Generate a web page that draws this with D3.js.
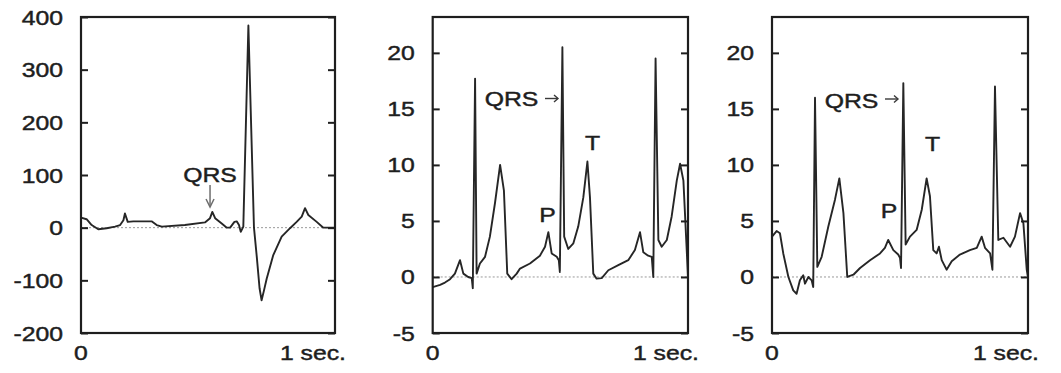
<!DOCTYPE html>
<html>
<head>
<meta charset="utf-8">
<script src="https://cdn.jsdelivr.net/npm/d3@7/dist/d3.min.js"></script>
<style>
  html, body { margin: 0; padding: 0; background: #fff; }
  svg { display: block; }
  text { font-family: "Liberation Sans", Arial, Helvetica, sans-serif; fill: #1e1e1e; stroke: #1e1e1e; stroke-width: 0.45px; }
</style>
</head>
<body>
<svg id="chart" width="1061" height="373"></svg>
<script>
// ---- data (time in seconds, 0..1) ----
const panel1Time = [0.000,0.022,0.042,0.068,0.101,0.134,0.154,0.167,0.173,0.184,0.206,0.278,0.298,0.318,0.409,0.488,0.508,0.517,0.528,0.554,0.574,0.587,0.604,0.613,0.622,0.629,0.639,0.659,0.681,0.692,0.703,0.711,0.720,0.731,0.757,0.790,0.823,0.849,0.869,0.882,0.895,0.928,0.954,1.000];
const panel1Value = [19,16,5,-3,-1,2,5,14,27,11,12,12,5,2,5,10,18,30,18,8,0,0,11,12,5,-8,2,384,0,-55,-115,-138,-120,-97,-52,-17,-1,11,21,37,24,11,0,0];

const panel2Time = [0.000,0.029,0.048,0.068,0.087,0.107,0.120,0.139,0.153,0.157,0.166,0.172,0.185,0.205,0.224,0.244,0.264,0.279,0.292,0.309,0.329,0.342,0.381,0.420,0.440,0.453,0.466,0.486,0.494,0.498,0.508,0.515,0.531,0.551,0.570,0.590,0.606,0.616,0.629,0.642,0.662,0.688,0.727,0.766,0.792,0.812,0.825,0.844,0.858,0.864,0.873,0.884,0.897,0.917,0.936,0.956,0.969,0.982,1.000];
const panel2Value = [-0.9,-0.7,-0.5,-0.2,0.3,1.5,0.3,0.0,-0.1,-1.0,17.7,0.3,1.2,1.8,3.6,6.6,10.0,7.7,0.3,-0.2,0.3,0.75,1.2,1.9,2.7,4.0,2.1,1.8,1.5,0.45,20.5,3.6,2.5,3.0,4.5,7.1,10.3,7.1,0.3,-0.15,-0.1,0.6,1.05,1.5,2.4,4.0,2.2,1.9,1.8,0.0,19.5,3.3,2.7,3.3,5.4,8.6,10.1,8.6,0.0];

const panel3Time = [0.000,0.018,0.031,0.044,0.064,0.083,0.096,0.109,0.122,0.129,0.142,0.155,0.161,0.168,0.177,0.194,0.220,0.246,0.263,0.279,0.294,0.318,0.344,0.383,0.422,0.441,0.454,0.474,0.493,0.500,0.504,0.513,0.522,0.539,0.565,0.585,0.604,0.617,0.630,0.643,0.652,0.663,0.682,0.702,0.734,0.773,0.800,0.819,0.832,0.852,0.861,0.871,0.884,0.904,0.930,0.949,0.969,0.982,0.995,1.000];
const panel3Value = [3.6,4.1,3.9,2.1,0.0,-1.2,-1.5,-0.3,0.15,-0.6,0.0,-0.3,-0.9,16.0,0.9,1.8,4.5,6.9,8.8,5.7,0.0,0.2,0.8,1.5,2.1,2.6,3.3,2.4,2.0,1.7,0.8,17.3,2.9,3.6,4.2,6.0,8.8,7.2,2.4,2.1,2.7,1.5,0.65,1.4,2.0,2.4,2.6,3.6,2.6,2.1,0.65,17.0,3.3,3.5,2.7,3.6,5.7,4.8,0.65,0.0];

const panel1Ticks = [-200,-100,0,100,200,300,400];
const panel2Ticks = [-5,0,5,10,15,20];
const panel3Ticks = [-5,0,5,10,15,20];
const xTickLabels = ["0", "1 sec."];

// ---- layout ----
const svg = d3.select("#chart");
const TOP = 17, BOTTOM = 333;
const FS = 21, SX = 1.18;

const panels = [
  {left: 81,    right: 335,  domain: [-200, 400], ticks: panel1Ticks, t: panel1Time, v: panel1Value},
  {left: 432.7, right: 688,  domain: [-5, 23.2],  ticks: panel2Ticks, t: panel2Time, v: panel2Value},
  {left: 772,   right: 1028, domain: [-5, 23.2],  ticks: panel3Ticks, t: panel3Time, v: panel3Value}
];

function label(g, x, y, txt, anchor) {
  return g.append("text")
    .attr("transform", `translate(${x},${y}) scale(${SX},1)`)
    .attr("text-anchor", anchor || "middle")
    .attr("font-size", FS)
    .text(txt);
}

function arrowRight(g, x1, x2, y) {
  g.append("line").attr("x1", x1).attr("x2", x2).attr("y1", y).attr("y2", y)
    .attr("stroke", "#3a3a3a").attr("stroke-width", 1.4);
  g.append("path").attr("d", `M${x2-4},${y-3.5} L${x2},${y} L${x2-4},${y+3.5}`)
    .attr("fill", "none").attr("stroke", "#3a3a3a").attr("stroke-width", 1.4);
}

panels.forEach(p => {
  const x = d3.scaleLinear().domain([0, 1]).range([p.left, p.right]);
  const y = d3.scaleLinear().domain(p.domain).range([BOTTOM, TOP]);
  p.x = x; p.y = y;
  const g = svg.append("g");

  // zero dotted line
  g.append("line")
    .attr("x1", p.left).attr("x2", p.right)
    .attr("y1", y(0)).attr("y2", y(0))
    .attr("stroke", "#9a9a9a").attr("stroke-width", 1)
    .attr("stroke-dasharray", "2,2");

  // trace
  const data = p.t.map((t, i) => [t, p.v[i]]);
  g.append("path")
    .datum(data)
    .attr("fill", "none")
    .attr("stroke", "#262626")
    .attr("stroke-width", 1.9)
    .attr("stroke-linejoin", "round")
    .attr("d", d3.line().x(d => x(d[0])).y(d => y(d[1])));

  // inward ticks left/right via d3 axes
  const left = d3.axisRight(y).tickValues(p.ticks).tickSize(7).tickFormat("");
  const right = d3.axisLeft(y).tickValues(p.ticks).tickSize(7).tickFormat("");
  const gl = g.append("g").attr("transform", `translate(${p.left},0)`).call(left);
  const gr = g.append("g").attr("transform", `translate(${p.right},0)`).call(right);
  [gl, gr].forEach(a => {
    a.select(".domain").remove();
    a.selectAll("line").attr("stroke", "#1e1e1e").attr("stroke-width", 2);
  });

  // frame
  g.append("rect")
    .attr("x", p.left).attr("y", TOP)
    .attr("width", p.right - p.left).attr("height", BOTTOM - TOP)
    .attr("fill", "none").attr("stroke", "#1e1e1e").attr("stroke-width", 2.2);

  // y tick labels
  p.ticks.forEach(tv => {
    label(g, p.left - 18, y(tv) + 7.5, String(tv), "end");
  });

  // x labels
  label(g, x(0), 360, xTickLabels[0], "middle");
  label(g, x(1) + 11, 360, xTickLabels[1], "end");
});

// ---- annotations ----
const ann = svg.append("g");
const p1 = panels[0];

// panel 1: QRS with downward arrow
label(ann, 210, 182, "QRS", "middle");
const ax1 = p1.x(0.508);
ann.append("line").attr("x1", ax1).attr("x2", ax1).attr("y1", 185).attr("y2", 206)
  .attr("stroke", "#6e6e6e").attr("stroke-width", 1.5);
ann.append("path").attr("d", `M${ax1-4},199 L${ax1},207 L${ax1+4},199`)
  .attr("fill", "none").attr("stroke", "#6e6e6e").attr("stroke-width", 1.5);

// panel 2
label(ann, 511.5, 106, "QRS", "middle");
arrowRight(ann, 545, 558, 98.5);
label(ann, 547.5, 221.5, "P", "middle");
label(ann, 592.5, 150, "T", "middle");

// panel 3
label(ann, 851.5, 108, "QRS", "middle");
arrowRight(ann, 885, 898, 99);
label(ann, 889, 218, "P", "middle");
label(ann, 932.5, 151, "T", "middle");
</script>
</body>
</html>
